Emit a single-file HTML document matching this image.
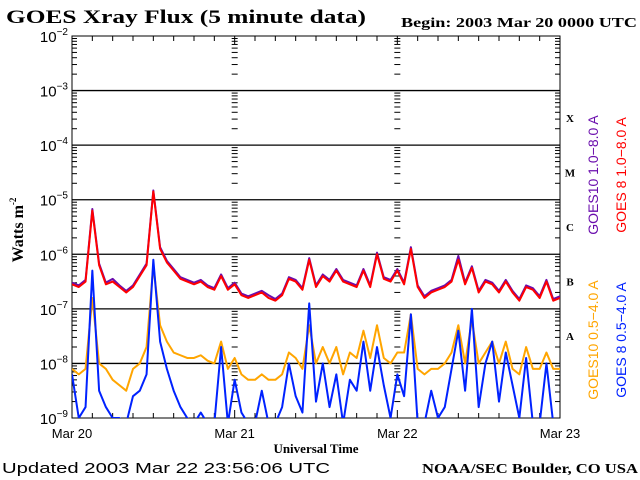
<!DOCTYPE html>
<html><head><meta charset="utf-8"><style>
body{margin:0;background:#fff;}
svg{display:block;}
.serif{font-family:"Liberation Serif",serif;font-weight:bold;}
.sans{font-family:"Liberation Sans",sans-serif;}
</style></head><body>
<svg id="chart" width="640" height="480" viewBox="0 0 640 480" xmlns="http://www.w3.org/2000/svg">
<defs><clipPath id="plotclip"><rect x="72" y="36" width="488" height="382"/></clipPath></defs>
<text class="serif" x="6" y="23" font-size="19" textLength="360" lengthAdjust="spacingAndGlyphs">GOES Xray Flux (5 minute data)</text>
<text class="serif" x="401" y="27" font-size="14" textLength="236" lengthAdjust="spacingAndGlyphs">Begin:  2003 Mar 20 0000 UTC</text>
<text class="serif" font-size="16" transform="translate(23,230) rotate(-90)" text-anchor="middle">Watts m<tspan font-size="9" dy="-7">-2</tspan></text>
<text class="serif" x="316" y="453" font-size="13" text-anchor="middle">Universal Time</text>
<text class="sans" x="2" y="473" font-size="15" textLength="328" lengthAdjust="spacingAndGlyphs">Updated 2003 Mar 22 23:56:06 UTC</text>
<text class="serif" x="422" y="473" font-size="14" textLength="216" lengthAdjust="spacingAndGlyphs">NOAA/SEC Boulder, CO USA</text>
<g id="axes"></g>
<g id="series" clip-path="url(#plotclip)"></g>
<g id="legend">
<text class="sans" fill="#6a0dad" font-size="14" transform="translate(598,175) rotate(-90)" text-anchor="middle">GOES10 1.0−8.0 A</text>
<text class="sans" fill="#ff0000" font-size="14" transform="translate(626,175) rotate(-90)" text-anchor="middle">GOES 8 1.0−8.0 A</text>
<text class="sans" fill="#ffa500" font-size="14" transform="translate(598,340) rotate(-90)" text-anchor="middle">GOES10 0.5−4.0 A</text>
<text class="sans" fill="#0022ff" font-size="14" transform="translate(626,340) rotate(-90)" text-anchor="middle">GOES 8 0.5−4.0 A</text>
</g>
</svg>
<script>
const dayLabels=["Mar 20","Mar 21","Mar 22","Mar 23"];
const decades=[-2,-3,-4,-5,-6,-7,-8,-9];
const classLetters=["X","M","C","B","A"];
const classDecades=[-4,-5,-6,-7,-8];
const goes8Long=[-6.55,-6.6,-6.5,-5.2,-6.2,-6.55,-6.5,-6.6,-6.7,-6.6,-6.4,-6.2,-4.85,-5.9,-6.15,-6.3,-6.45,-6.5,-6.55,-6.5,-6.6,-6.65,-6.4,-6.65,
-6.55,-6.75,-6.8,-6.75,-6.7,-6.8,-6.85,-6.75,-6.45,-6.5,-6.65,-6.1,-6.6,-6.4,-6.5,-6.3,-6.5,-6.55,-6.6,-6.3,-6.6,-6.0,-6.45,-6.5,
-6.3,-6.55,-5.9,-6.6,-6.8,-6.7,-6.65,-6.6,-6.5,-6.1,-6.55,-6.25,-6.7,-6.5,-6.55,-6.7,-6.5,-6.7,-6.85,-6.6,-6.65,-6.8,-6.5,-6.85,-6.8];
const goes10Long=[-6.52,-6.57,-6.47,-5.17,-6.17,-6.52,-6.45,-6.57,-6.67,-6.57,-6.37,-6.17,-4.83,-5.87,-6.12,-6.27,-6.42,-6.47,-6.52,-6.47,-6.57,-6.62,-6.37,-6.62,
-6.52,-6.72,-6.77,-6.72,-6.67,-6.75,-6.82,-6.72,-6.42,-6.47,-6.62,-6.07,-6.57,-6.37,-6.47,-6.27,-6.47,-6.52,-6.57,-6.27,-6.57,-5.97,-6.42,-6.47,
-6.27,-6.52,-5.87,-6.57,-6.77,-6.67,-6.62,-6.57,-6.47,-6.03,-6.52,-6.22,-6.67,-6.47,-6.52,-6.67,-6.47,-6.67,-6.82,-6.57,-6.62,-6.77,-6.47,-6.82,-6.77];
const goes10Short=[-8.1,-8.2,-8.1,-6.8,-8.0,-8.1,-8.3,-8.4,-8.5,-8.1,-8.0,-7.7,-6.2,-7.3,-7.6,-7.8,-7.85,-7.9,-7.9,-7.85,-7.95,-8.0,-7.6,-8.1,
-7.9,-8.2,-8.3,-8.3,-8.2,-8.3,-8.3,-8.2,-7.8,-7.9,-8.1,-7.3,-8.0,-7.7,-8.0,-7.7,-8.2,-7.8,-7.9,-7.4,-7.9,-7.3,-7.9,-8.0,
-7.8,-7.8,-7.1,-8.1,-8.2,-8.1,-8.1,-8.0,-7.8,-7.3,-8.0,-7.2,-8.0,-7.8,-7.6,-8.0,-7.6,-8.1,-8.2,-7.7,-8.1,-8.1,-7.8,-8.1,-8.1];
const goes8Short=[-8.2,-9,-8.8,-6.3,-8.5,-8.8,-9,-9,-9.1,-8.6,-8.5,-8.2,-6.1,-7.6,-8.1,-8.5,-8.8,-9,-9.1,-8.9,-9.1,-9.1,-7.7,-9.1,
-8.3,-8.9,-9.1,-9.1,-8.5,-9.1,-9.1,-8.8,-8.0,-8.6,-8.9,-6.9,-8.7,-8.0,-8.8,-8.2,-9.1,-8.3,-8.5,-7.6,-8.5,-7.7,-8.4,-9.0,
-8.2,-8.6,-7.1,-9.1,-9.1,-8.5,-9.0,-8.8,-8.1,-7.4,-8.5,-7.0,-8.8,-8.0,-7.6,-8.7,-7.8,-8.4,-9.0,-7.9,-9.1,-9.1,-8.0,-9.1,-9.1];

const NS="http://www.w3.org/2000/svg";
const X0=72,X1=560,Y0=36,Y1=418;
const xScale=h=>X0+(X1-X0)*h/72;
const yScale=l=>Y0+(Y1-Y0)*(-2-l)/7;
function mk(tag,attrs,parent){const e=document.createElementNS(NS,tag);for(const k in attrs)e.setAttribute(k,attrs[k]);parent.appendChild(e);return e;}
const axes=document.getElementById('axes');
const frame=mk('rect',{x:X0,y:Y0,width:X1-X0,height:Y1-Y0,fill:'none',stroke:'#000','stroke-width':1},axes);


decades.forEach(d=>{
  const y=yScale(d);
  if(d>-9&&d<-2){const g=mk('line',{x1:X0,x2:X1,y1:y,y2:y,stroke:'#000','stroke-width':1.3},axes);
  
  }
  const t=mk('text',{x:X0-4,y:y+6,'font-size':15,'text-anchor':'end','class':'sans'},axes);
  
  
  t.innerHTML='10<tspan font-size="10" dy="-7">'+d+'</tspan>';
  t.lastChild.textContent=String(d).replace('-','−');
  if(d>-9){for(let m=2;m<=9;m++){const yy=yScale(d-1+Math.log10(m));
    [[X0,X0+5],[X1-5,X1],[xScale(24)-3,xScale(24)+3],[xScale(48)-3,xScale(48)+3]].forEach(p=>{
      const tk=mk('line',{x1:p[0],x2:p[1],y1:yy,y2:yy,stroke:'#000'},axes);
      
      });}}
});
for(let h=3;h<72;h+=3){const x=xScale(h);const len=h%24===0?8:5;
  [[Y0,Y0+len],[Y1-len,Y1]].forEach(p=>{const tk=mk('line',{x1:x,x2:x,y1:p[0],y2:p[1],stroke:'#000'},axes);
  
  });}
dayLabels.forEach((lab,i)=>{const t=mk('text',{x:xScale(i*24),y:438,'font-size':13,'text-anchor':'middle','class':'sans'},axes);
  
  
  t.textContent=lab;});
classLetters.forEach((c,i)=>{const t=mk('text',{x:570,y:yScale(classDecades[i]+0.5)+4,'font-size':11,'text-anchor':'middle','class':'serif'},axes);
  
  
  t.textContent=c;});
const ser=document.getElementById('series');
function draw(arr,color,name){let d='';arr.forEach((v,i)=>{const x=xScale(i),y=yScale(v);
  d+=(i===0?'M':'L')+x+' '+y;});
  const p=mk('path',{d:d,fill:'none',stroke:color,'stroke-width':2,'stroke-linejoin':'round'},ser);
  
  }
draw(goes10Short,'#ffa500','goes10-short-line');
draw(goes8Short,'#0022ff','goes8-short-line');
draw(goes10Long,'#6a0dad','goes10-long-line');
draw(goes8Long,'#ff0000','goes8-long-line');
</script>
</body></html>
